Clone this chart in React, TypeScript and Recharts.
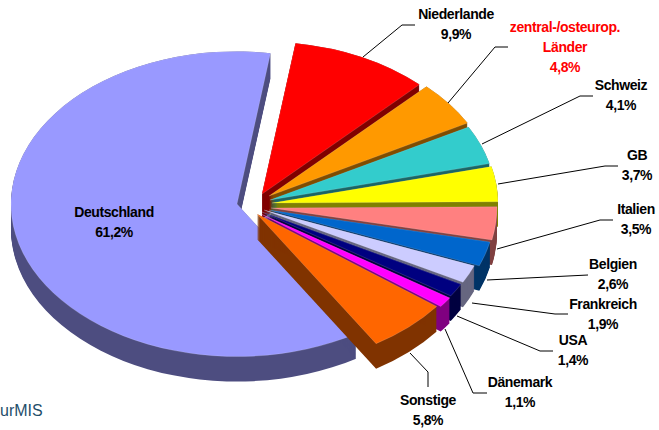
import { PieChart, Pie } from "recharts";

const categories = ["Deutschland", "Niederlande", "zentral-/osteurop. Länder", "Schweiz", "GB", "Italien", "Belgien", "Frankreich", "USA", "Dänemark", "Sonstige"];
const shares = [61.2, 9.9, 4.8, 4.1, 3.7, 3.5, 2.6, 1.9, 1.4, 1.1, 5.8];

const topColors = ["#9999ff", "#ff0000", "#ff9900", "#33cccc", "#ffff00", "#ff8080", "#0066cc", "#ccccff", "#000080", "#ff00ff", "#ff6600"];
const wallColors = ["#4d4d80", "#800000", "#804d00", "#1a6666", "#808000", "#804040", "#003366", "#666680", "#000040", "#800080", "#803300"];

// how far each slice is pulled out of the pie
const shiftX = [-35, -10, -3, -2, 0, -1, -3, -8, -10, -11, -15];
const shiftY = [-1, -11, -9, -5, -2, 3, 5, 5, 7, 9, 9];

const labelLines = [
  "",
  "363,57 402,25 415,25",
  "448,103 495,47 508,47",
  "482,144 580,96 593,96",
  "498,184 605,166 618,166",
  "497,249 600,220 613,220",
  "487,280 588,275",
  "472,303 555,314 568,314",
  "457,316 540,351 553,351",
  "445,329 473,393 487,393",
  "410,353 428,372 428,387",
];
const labelX = [114, 456, 565, 621, 637, 636, 613, 603, 573, 520, 428];
const labelY = [212, 14, 27, 85, 155, 209, 264, 304, 340, 382, 400];

const SQUASH = 0.675;
const DEPTH = 25;
const RAD = Math.PI / 180;

function wedge(cx: number, cy: number, r: number, a0: number, a1: number) {
  const x0 = cx + r * Math.cos(a0 * RAD);
  const y0 = cy - r * SQUASH * Math.sin(a0 * RAD);
  const x1 = cx + r * Math.cos(a1 * RAD);
  const y1 = cy - r * SQUASH * Math.sin(a1 * RAD);
  const large = Math.abs(a0 - a1) > 180 ? 1 : 0;
  return `M${cx},${cy}L${x0},${y0}A${r},${r * SQUASH} 0 ${large} 1 ${x1},${y1}Z`;
}

function Slice(props: any) {
  const { cx, cy, outerRadius, startAngle, endAngle } = props;
  const i = categories.indexOf(props.name);
  const x = cx + shiftX[i];
  const y = cy + shiftY[i];
  const walls = [];
  for (let d = 0; d <= DEPTH; d += 1) {
    walls.push(<path key={d} d={wedge(x, y + d, outerRadius, startAngle, endAngle)} fill={wallColors[i]} />);
  }
  return (
    <g>
      {walls}
      <path d={wedge(x, y, outerRadius, startAngle, endAngle)} fill={topColors[i]} stroke="#ffffff" strokeWidth={0.3} strokeOpacity={0.5} />
    </g>
  );
}

function SliceLabel(props: any) {
  const i = props.index;
  const lines = i === 2 ? ["zentral-/osteurop.", "Länder"] : [categories[i]];
  const pct = `${String(shares[i]).replace(".", ",")}%`;
  const color = i === 2 ? "#ff0000" : "#000000";
  return (
    <g>
      {labelLines[i] && <polyline points={labelLines[i]} fill="none" stroke="#000000" strokeWidth={1} />}
      <text x={labelX[i]} y={labelY[i] + 5} textAnchor="middle" fontFamily="Liberation Sans" fontSize={14} fontWeight="bold" letterSpacing={-0.4} fill={color}>
        {[...lines, pct].map((t, k) => (
          <tspan key={t} x={labelX[i]} dy={k === 0 ? 0 : 20}>{t}</tspan>
        ))}
      </text>
    </g>
  );
}

const pieData = categories.map((name, i) => ({ name, value: shares[i] }));

export default function App() {
  return (
    <div style={{ position: "absolute", left: 0, top: 0, width: 659, height: 430, overflow: "hidden", background: "#ffffff" }}>
      <PieChart width={659} height={430} margin={{ top: 0, right: 0, bottom: 0, left: 0 }}>
        <Pie
          data={pieData}
          dataKey="value"
          nameKey="name"
          cx={272}
          cy={205}
          innerRadius={0}
          outerRadius={226}
          startAngle={-58.2}
          endAngle={-418.2}
          stroke="none"
          shape={Slice}
          label={SliceLabel}
          labelLine={false}
          isAnimationActive={false}
        />
        <text x={0} y={416} fontFamily="Liberation Sans" fontSize={16} fill="#1f4e6b">urMIS</text>
      </PieChart>
    </div>
  );
}
